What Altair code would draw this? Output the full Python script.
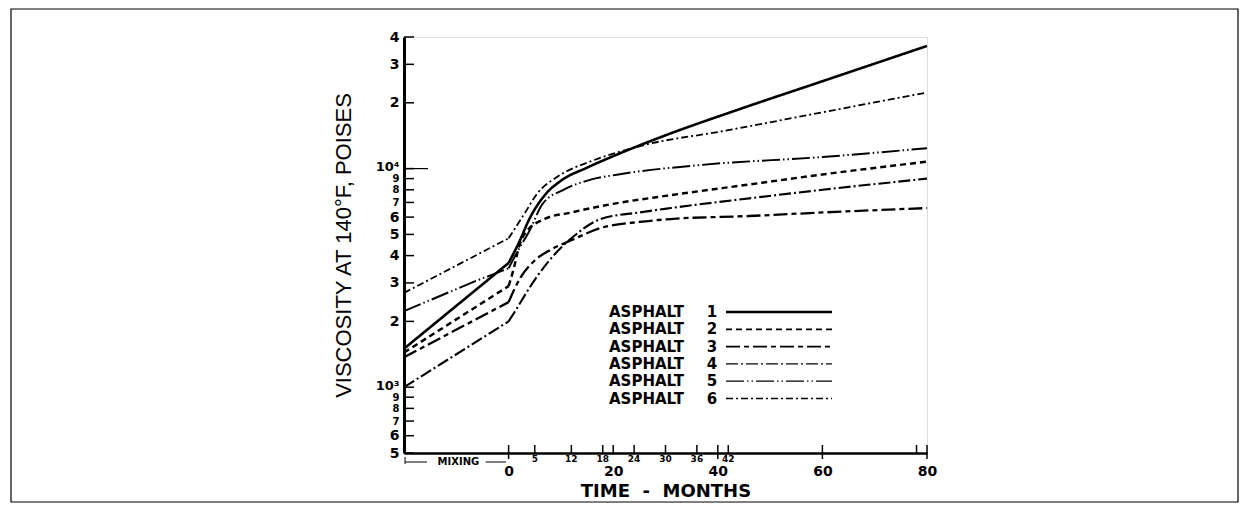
import altair as alt
import pandas as pd

# ---------------- data ----------------
series_names = ["ASPHALT 1", "ASPHALT 2", "ASPHALT 3", "ASPHALT 4", "ASPHALT 5", "ASPHALT 6"]

months_1 = [-20, 0, 2, 4, 7, 10, 15, 20, 30, 43, 60, 80]
visc_1 = [1500, 3700, 4600, 5900, 7600, 8800, 10100, 11400, 14200, 18300, 25100, 36400]

months_2 = [-20, 0, 1, 2, 3, 7, 12, 20, 30, 46, 60, 80]
visc_2 = [1440, 2900, 3500, 4400, 5000, 5900, 6300, 6900, 7500, 8460, 9400, 10760]

months_3 = [-20, 0, 2.3, 5, 8, 12, 17.6, 25, 31, 46, 60, 80]
visc_3 = [1370, 2450, 3180, 3800, 4250, 4700, 5350, 5700, 5880, 6070, 6300, 6600]

months_4 = [-20, 0, 1, 5, 9.4, 12, 17.6, 25, 31, 46, 60, 80]
visc_4 = [1000, 2000, 2180, 3100, 4200, 4800, 5880, 6300, 6600, 7310, 8000, 9000]

months_5 = [-20, -6, 0, 2, 4, 6.5, 10.5, 15.7, 21, 37, 60, 80]
visc_5 = [2230, 3080, 3500, 4300, 5200, 6900, 8000, 8900, 9400, 10400, 11300, 12400]

months_6 = [-20, 0, 3, 5.5, 9.4, 15.7, 21, 27, 40, 60, 80]
visc_6 = [2700, 4800, 6200, 7700, 9200, 10800, 11900, 13000, 14700, 18100, 22300]

y_tick_values = [500, 600, 700, 800, 900, 1000, 2000, 3000, 4000, 5000, 6000, 7000,
                 8000, 9000, 10000, 20000, 30000, 40000]
x_major_labels = [0, 20, 40, 60, 80]
x_small_tick_months = [5, 12, 18, 24, 30, 36, 42]
x_small_tick_labels = ["5", "12", "18", "24", "30", "36", "42"]
x_up_ticks = [0, 5, 12, 18, 20, 24, 30, 36, 40, 42, 60, 78, 80]
x_down_ticks = [0, 40, 60, 80]
mixing_dash_start = [-19.8, -4.4]
mixing_dash_end = [-15.6, -0.5]

# ---------------- build tables ----------------
all_months = [months_1, months_2, months_3, months_4, months_5, months_6]
all_visc = [visc_1, visc_2, visc_3, visc_4, visc_5, visc_6]
rows = []
for name, ms, vs in zip(series_names, all_months, all_visc):
    for m, v in zip(ms, vs):
        rows.append({"series": name, "month": m, "visc": v})
df = pd.DataFrame(rows)
df_mix = df[df["month"] <= 0]
df_age = df[df["month"] >= 0]

W, H = 523, 416
xscale = alt.Scale(domain=[-20, 80], nice=False, zero=False)
yscale = alt.Scale(type="log", domain=[500, 40000], nice=False)

dash_range = [[1, 0], [6, 4], [14, 4, 5, 4], [12, 3, 2, 3], [18, 3, 1.5, 3, 1.5, 3], [7, 3, 2, 3]]
width_range = [2.6, 1.8, 1.8, 1.3, 1.3, 1.3]

label_expr = ("datum.value == 1000 ? '10\u00b3' : datum.value == 10000 ? '10\u2074' : "
              "substring(format(datum.value, 'd'), 0, 1)")
crowded = ("(datum.value > 650 && datum.value < 1000) || "
           "(datum.value > 6500 && datum.value < 10000)")
decade = "datum.value == 1000 || datum.value == 10000"

x_title = "TIME\u00a0\u00a0-\u00a0\u00a0MONTHS"
y_title = "VISCOSITY AT 140\u00b0F, POISES"

x_axis = alt.Axis(values=x_major_labels, ticks=False, grid=False, domainColor="black",
                  domainWidth=2.5, labelFont="DejaVu Sans", labelFontWeight="bold",
                  labelFontSize=14, labelColor="black", labelPadding=11, labelFlush=False,
                  labelOverlap=False, title=x_title, titleFont="DejaVu Sans", titleFontSize=18,
                  titleFontWeight="bold", titleColor="black", titlePadding=4)
y_axis = alt.Axis(values=y_tick_values, ticks=False, grid=False, domainColor="black",
                  domainWidth=3, labelExpr=label_expr, labelFont="DejaVu Sans",
                  labelFontWeight="bold",
                  labelFontSize={"condition": [{"test": crowded, "value": 10},
                                               {"test": decade, "value": 13}], "value": 14},
                  labelOffset={"condition": {"test": decade, "value": -2}, "value": 0},
                  labelColor="black", labelPadding=5, labelOverlap=False, labelBound=False,
                  title=y_title, titleFont="Liberation Sans", titleFontSize=22,
                  titleFontWeight="normal", titleColor="black", titlePadding=20)

dash_enc = alt.StrokeDash("series:N", scale=alt.Scale(domain=series_names, range=dash_range),
                          legend=None)
width_enc = alt.StrokeWidth("series:N", scale=alt.Scale(domain=series_names, range=width_range),
                            legend=None)

lines_age = alt.Chart(df_age).mark_line(interpolate="monotone", color="black").encode(
    x=alt.X("month:Q", scale=xscale, axis=x_axis, title=x_title),
    y=alt.Y("visc:Q", scale=yscale, axis=y_axis, title=y_title),
    strokeDash=dash_enc, strokeWidth=width_enc,
)
lines_mix = alt.Chart(df_mix).mark_line(interpolate="linear", color="black").encode(
    x=alt.X("month:Q", scale=xscale), y=alt.Y("visc:Q", scale=yscale),
    strokeDash=dash_enc, strokeWidth=width_enc,
)

# inward y ticks
ytick_df = pd.DataFrame({"visc": y_tick_values})
yticks = alt.Chart(ytick_df).mark_rule(color="black", strokeWidth=1.5).encode(
    y=alt.Y("visc:Q", scale=yscale), x=alt.value(0), x2=alt.value(10))
long_tick = alt.Chart(pd.DataFrame({"visc": [10000]})).mark_rule(color="black", strokeWidth=1.2).encode(
    y=alt.Y("visc:Q", scale=yscale), x=alt.value(0), x2=alt.value(24))

# x ticks
up = alt.Chart(pd.DataFrame({"month": x_up_ticks})).mark_rule(color="black", strokeWidth=1.5).encode(
    x=alt.X("month:Q", scale=xscale), y=alt.value(H), y2=alt.value(H - 8))
down = alt.Chart(pd.DataFrame({"month": x_down_ticks})).mark_rule(color="black", strokeWidth=1.5).encode(
    x=alt.X("month:Q", scale=xscale), y=alt.value(H), y2=alt.value(H + 6))
small_lab = alt.Chart(pd.DataFrame({"month": x_small_tick_months, "t": x_small_tick_labels})).mark_text(
    font="DejaVu Sans", fontWeight="bold", fontSize=9, baseline="top", color="black").encode(
    x=alt.X("month:Q", scale=xscale), y=alt.value(H + 1.5), text="t:N")

# mixing annotation
mix_text = alt.Chart(pd.DataFrame({"month": [-9.6], "t": ["MIXING"]})).mark_text(
    font="DejaVu Sans", fontWeight="bold", fontSize=10, color="black").encode(
    x=alt.X("month:Q", scale=xscale), y=alt.value(H + 9), text="t:N")
mix_dash = alt.Chart(pd.DataFrame({"month": mixing_dash_start, "b": mixing_dash_end})).mark_rule(
    color="black", strokeWidth=1).encode(
    x=alt.X("month:Q", scale=xscale), x2="b:Q", y=alt.value(H + 9))
mix_bar = alt.Chart(pd.DataFrame({"month": [-19.8]})).mark_rule(
    color="black", strokeWidth=1).encode(
    x=alt.X("month:Q", scale=xscale), y=alt.value(H + 4), y2=alt.value(H + 11))

# legend (drawn inside the plot)
one = pd.DataFrame({"k": [0]})
legend_layers = []
for i, name in enumerate(series_names):
    yy = 275 + i * 17.3
    word, num = name.split(" ")
    legend_layers.append(alt.Chart(one).mark_text(
        font="DejaVu Sans", fontWeight="bold", fontSize=15, align="left", baseline="middle",
        color="black").encode(x=alt.value(205), y=alt.value(yy), text=alt.value(word)))
    legend_layers.append(alt.Chart(one).mark_text(
        font="DejaVu Sans", fontWeight="bold", fontSize=15, align="center", baseline="middle",
        color="black").encode(x=alt.value(308), y=alt.value(yy), text=alt.value(num)))
    legend_layers.append(alt.Chart(one).mark_rule(
        color="black", strokeWidth=width_range[i], strokeDash=dash_range[i]).encode(
        x=alt.value(322), x2=alt.value(428), y=alt.value(yy)))

border = alt.Chart(one).mark_rect(fill=None, stroke="black", strokeWidth=1.2).encode(
    x=alt.value(-393), x2=alt.value(834), y=alt.value(-28), y2=alt.value(465))

chart = alt.layer(lines_age, lines_mix, yticks, long_tick, up, down, small_lab, mix_text, mix_dash,
                  mix_bar, *legend_layers, border).properties(
    width=W, height=H, padding={"left": 2, "top": 0, "right": 0, "bottom": 0}
).configure_view(stroke=None).configure(background="white")

chart.save("out.html", embed_options={"renderer": "svg", "actions": False})
